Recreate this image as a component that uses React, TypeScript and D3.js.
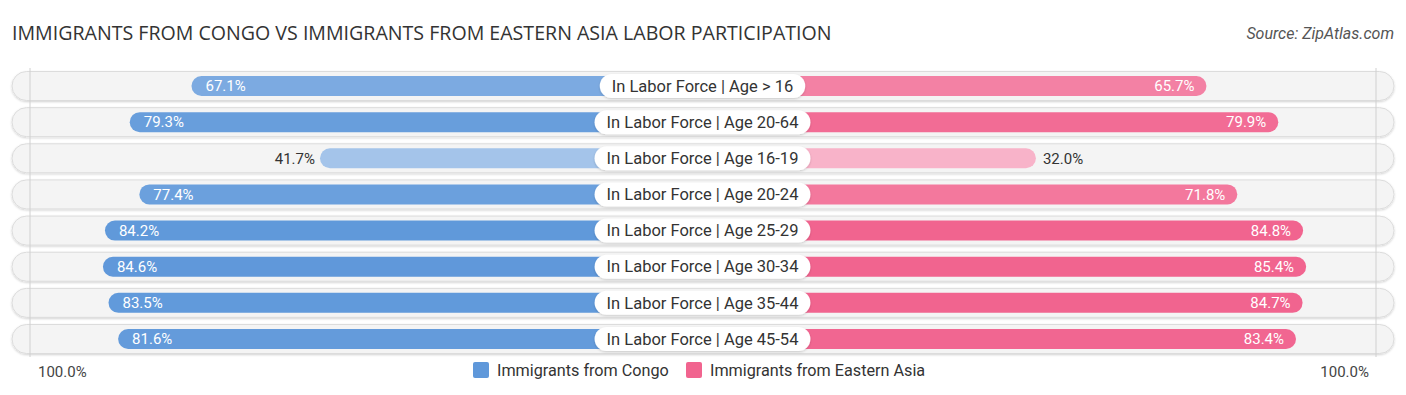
import * as d3 from "d3";
import { useEffect, useRef } from "react";

const categories = [
  "In Labor Force | Age > 16",
  "In Labor Force | Age 20-64",
  "In Labor Force | Age 16-19",
  "In Labor Force | Age 20-24",
  "In Labor Force | Age 25-29",
  "In Labor Force | Age 30-34",
  "In Labor Force | Age 35-44",
  "In Labor Force | Age 45-54",
];
const congo = [67.1, 79.3, 41.7, 77.4, 84.2, 84.6, 83.5, 81.6];
const easternAsia = [65.7, 79.9, 32.0, 71.8, 84.8, 85.4, 84.7, 83.4];
const seriesNames = ["Immigrants from Congo", "Immigrants from Eastern Asia"];

const W = 1406;
const H = 395;

export default function App() {
  const ref = useRef<SVGSVGElement>(null);

  useEffect(() => {
    const svg = d3.select(ref.current);
    svg.selectAll("*").remove();

    const cx = 702.5;
    // bars start behind the centre label
    const xl = d3.scaleLinear().domain([0, 100]).range([531, 25]);
    const xr = d3.scaleLinear().domain([0, 100]).range([874, 1380]);
    const y = d3.scalePoint().domain(categories).range([86, 339]);

    const blue = d3.interpolateRgb("#b7d0ee", "#5f98da");
    const pink = d3.interpolateRgb("#f8b6cb", "#f1648f");
    const tone = d3.scaleLinear().domain([30, 85]).range([0, 1]).clamp(true);

    const defs = svg.append("defs");
    const f = defs.append("filter").attr("id", "sh").attr("x", "-5%").attr("y", "-30%").attr("width", "110%").attr("height", "160%");
    f.append("feDropShadow").attr("dx", 0).attr("dy", 1).attr("stdDeviation", 1).attr("flood-color", "#000").attr("flood-opacity", 0.18);

    // title
    svg.append("text")
      .attr("x", 12).attr("y", 40)
      .attr("font-family", "'Open Sans', sans-serif")
      .attr("font-size", 19.6)
      .attr("fill", "#333")
      .text("IMMIGRANTS FROM CONGO VS IMMIGRANTS FROM EASTERN ASIA LABOR PARTICIPATION");
    svg.append("text")
      .attr("x", 1394).attr("y", 39)
      .attr("text-anchor", "end")
      .attr("font-family", "Roboto, sans-serif")
      .attr("font-style", "italic")
      .attr("font-size", 16)
      .attr("fill", "#555")
      .text("Source: ZipAtlas.com");

    const rowH = 29;

    // row backgrounds
    svg.append("g").selectAll("rect")
      .data(categories)
      .join("rect")
      .attr("x", 12)
      .attr("y", (d) => y(d)! - rowH / 2)
      .attr("width", 1382)
      .attr("height", rowH)
      .attr("rx", rowH / 2)
      .attr("fill", "#f4f4f4")
      .attr("stroke", "#dcdcdc")
      .attr("stroke-width", 1)
      .attr("filter", "url(#sh)");

    // gridlines
    svg.append("g").selectAll("line")
      .data([30, 1376])
      .join("line")
      .attr("x1", (d) => d).attr("x2", (d) => d)
      .attr("y1", 68).attr("y2", 357)
      .attr("stroke", "#d0d0d0")
      .attr("stroke-width", 1);

    const barH = 20;
    const rows = svg.append("g").selectAll("g")
      .data(categories)
      .join("g")
      .attr("transform", (d) => `translate(0,${y(d)!})`);

    // left bars
    rows.append("rect")
      .attr("x", (_, i) => xl(congo[i]))
      .attr("y", -barH / 2)
      .attr("width", (_, i) => cx - xl(congo[i]))
      .attr("height", barH)
      .attr("rx", barH / 2)
      .attr("fill", (_, i) => blue(tone(congo[i])));
    // right bars
    rows.append("rect")
      .attr("x", cx)
      .attr("y", -barH / 2)
      .attr("width", (_, i) => xr(easternAsia[i]) - cx)
      .attr("height", barH)
      .attr("rx", barH / 2)
      .attr("fill", (_, i) => pink(tone(easternAsia[i])));

    // value labels
    rows.append("text")
      .attr("x", (_, i) => (congo[i] < 50 ? xl(congo[i]) - 5 : xl(congo[i]) + 14))
      .attr("y", 0)
      .attr("dy", "0.35em")
      .attr("text-anchor", (_, i) => (congo[i] < 50 ? "end" : "start"))
      .attr("font-family", "Roboto, sans-serif")
      .attr("font-size", 15)
      .attr("fill", (_, i) => (congo[i] < 50 ? "#333" : "#fff"))
      .text((_, i) => `${congo[i].toFixed(1)}%`);
    rows.append("text")
      .attr("x", (_, i) => (easternAsia[i] < 50 ? xr(easternAsia[i]) + 7 : xr(easternAsia[i]) - 12))
      .attr("y", 0)
      .attr("dy", "0.35em")
      .attr("text-anchor", (_, i) => (easternAsia[i] < 50 ? "start" : "end"))
      .attr("font-family", "Roboto, sans-serif")
      .attr("font-size", 15)
      .attr("fill", (_, i) => (easternAsia[i] < 50 ? "#333" : "#fff"))
      .text((_, i) => `${easternAsia[i].toFixed(1)}%`);

    // centre labels
    rows.each(function (d) {
      const g = d3.select(this);
      const t = g.append("text")
        .attr("x", cx)
        .attr("y", 0)
        .attr("dy", "0.35em")
        .attr("text-anchor", "middle")
        .attr("font-family", "Roboto, sans-serif")
        .attr("font-size", 16.5)
        .attr("fill", "#333")
        .text(d);
      const w = (t.node() as SVGTextElement).getComputedTextLength() + 24;
      g.insert("rect", "text")
        .attr("x", cx - w / 2)
        .attr("y", -12)
        .attr("width", w)
        .attr("height", 24)
        .attr("rx", 12)
        .attr("fill", "#fff")
        .attr("filter", "url(#sh)");
      t.raise();
    });

    // axis end labels
    svg.append("text")
      .attr("x", 38).attr("y", 377)
      .attr("font-family", "Roboto, sans-serif")
      .attr("font-size", 15)
      .attr("fill", "#444")
      .text("100.0%");
    svg.append("text")
      .attr("x", 1369).attr("y", 377)
      .attr("text-anchor", "end")
      .attr("font-family", "Roboto, sans-serif")
      .attr("font-size", 15)
      .attr("fill", "#444")
      .text("100.0%");

    // legend
    const legend = [
      { name: seriesNames[0], color: blue(1), x: 473 },
      { name: seriesNames[1], color: pink(1), x: 686 },
    ];
    const lg = svg.append("g").selectAll("g")
      .data(legend)
      .join("g")
      .attr("transform", (d) => `translate(${d.x},362)`);
    lg.append("rect")
      .attr("width", 16).attr("height", 16)
      .attr("rx", 2)
      .attr("fill", (d) => d.color);
    lg.append("text")
      .attr("x", 24).attr("y", 8)
      .attr("dy", "0.35em")
      .attr("font-family", "Roboto, sans-serif")
      .attr("font-size", 16.2)
      .attr("fill", "#333")
      .text((d) => d.name);
  }, []);

  return <svg ref={ref} width={W} height={H} style={{ position: "absolute", left: 0, top: 0 }} />;
}
